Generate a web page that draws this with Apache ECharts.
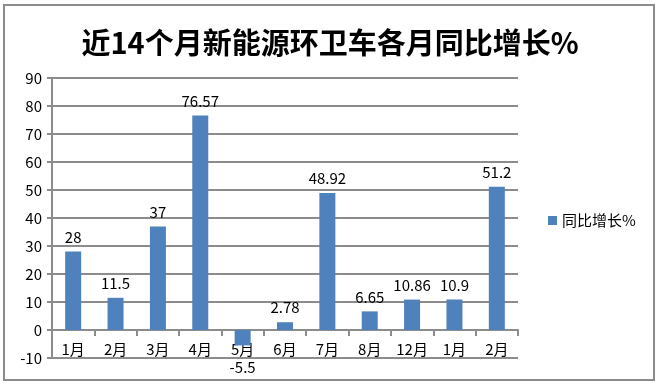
<!DOCTYPE html>
<html><head><meta charset="utf-8">
<script src="https://cdn.jsdelivr.net/npm/echarts@6/dist/echarts.min.js"></script>
<style>html,body{margin:0;padding:0;background:#fff}#c{width:660px;height:384px}</style>
</head><body><div id="c"></div>
<script>
var categories = ['1月','2月','3月','4月','5月','6月','7月','8月','12月','1月','2月'];
var values = [28, 11.5, 37, 76.57, -5.5, 2.78, 48.92, 6.65, 10.86, 10.9, 51.2];
var seriesName = '同比增长%';
var titleText = '近14个月新能源环卫车各月同比增长%';

var chart = echarts.init(document.getElementById('c'));
var font = '"Noto Sans CJK SC", "Liberation Sans", sans-serif';
chart.setOption({
  backgroundColor: '#fff',
  animation: false,
  title: {
    text: titleText, left: 'center', top: 23,
    textStyle: {fontFamily: font, fontSize: 29, fontWeight: 'bold', color: '#000'}
  },
  graphic: [{
    type: 'rect', shape: {x: 4, y: 5, width: 650, height: 375},
    style: {fill: 'none', stroke: '#8c8c8c', lineWidth: 2}, silent: true
  }],
  legend: {
    data: [seriesName], left: 543, top: 208, itemWidth: 9, itemHeight: 9, itemGap: 4,
    icon: 'rect',
    textStyle: {fontFamily: font, fontSize: 15, color: '#000'}
  },
  grid: {left: 52, right: 142, top: 78, bottom: 26},
  xAxis: {
    type: 'category', data: categories, offset: -28,
    axisLine: {onZero: false, lineStyle: {color: '#8c8c8c', width: 2}},
    axisTick: {show: true, length: 6, lineStyle: {color: '#8c8c8c', width: 2}},
    axisLabel: {fontFamily: font, fontSize: 15, color: '#000', margin: 12}
  },
  yAxis: {
    type: 'value', min: -10, max: 90, interval: 10,
    axisLine: {show: true, lineStyle: {color: '#8c8c8c', width: 2}},
    axisTick: {show: true, length: 5, lineStyle: {color: '#8c8c8c', width: 2}},
    splitLine: {lineStyle: {color: '#8c8c8c', width: 2}},
    axisLabel: {fontFamily: font, fontSize: 15, color: '#000', margin: 10}
  },
  series: [{
    name: seriesName, type: 'bar', barWidth: 16,
    itemStyle: {color: '#4F81BD'},
    label: {show: true, position: 'top', distance: 7, fontFamily: font, fontSize: 15, color: '#000'},
    data: values.map(function (v) {
      return v < 0 ? {value: v, label: {position: 'bottom', distance: 14}} : v;
    })
  }]
});
</script></body></html>
